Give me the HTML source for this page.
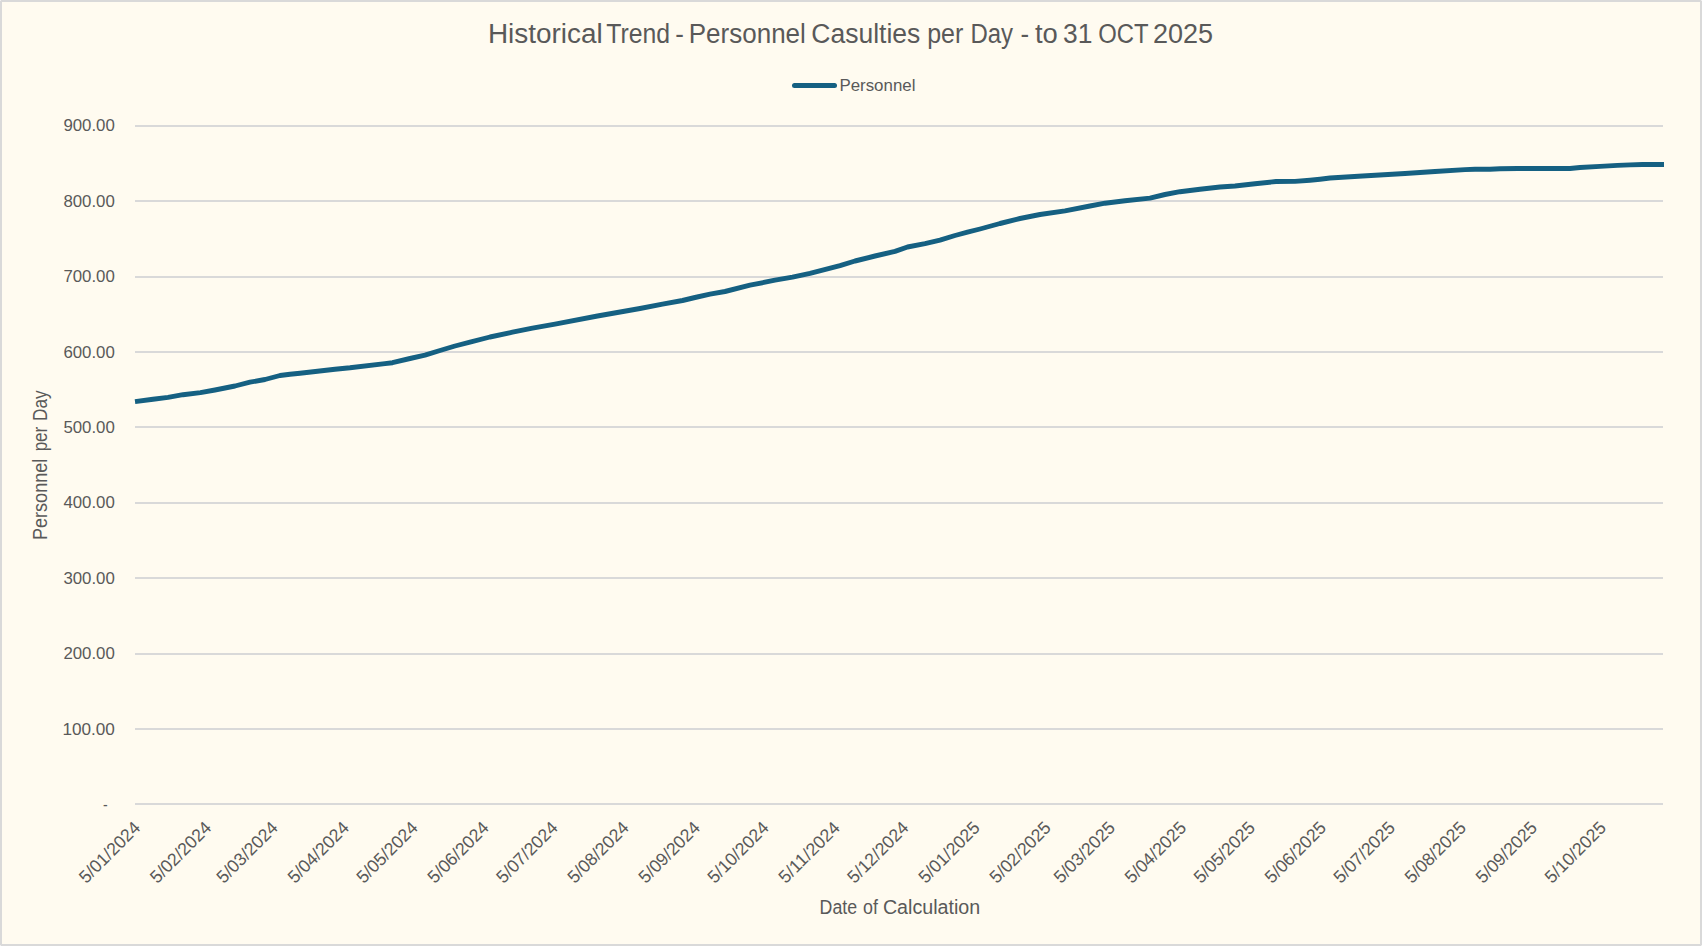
<!DOCTYPE html>
<html lang="en"><head><meta charset="utf-8"><title>Historical Trend - Personnel Casulties per Day</title>
<style>html,body{margin:0;padding:0;background:#FFFBF0;}body{width:1702px;height:946px;overflow:hidden;}svg{display:block;}text{font-family:"Liberation Sans", sans-serif;fill:#595959;}</style>
</head><body>
<svg width="1702" height="946" viewBox="0 0 1702 946">
<rect x="0" y="0" width="1702" height="946" fill="#D9D9D9"/>
<rect x="2" y="2" width="1698" height="942" fill="#FFFBF0"/>
<rect x="0" y="0" width="1" height="1" fill="#EFEFEF"/>
<rect x="1701" y="0" width="1" height="1" fill="#EFEFEF"/>
<rect x="0" y="945" width="1" height="1" fill="#EFEFEF"/>
<rect x="1701" y="945" width="1" height="1" fill="#EFEFEF"/>
<g id="title">
<text y="42.70" font-size="27.0"><tspan x="487.93" textLength="114.80" lengthAdjust="spacingAndGlyphs">Historical</tspan> <tspan x="606.30" textLength="63.83" lengthAdjust="spacingAndGlyphs">Trend</tspan> <tspan x="675.14" textLength="8.61" lengthAdjust="spacingAndGlyphs">-</tspan> <tspan x="688.77" textLength="117.09" lengthAdjust="spacingAndGlyphs">Personnel</tspan> <tspan x="811.32" textLength="108.97" lengthAdjust="spacingAndGlyphs">Casulties</tspan> <tspan x="927.17" textLength="36.12" lengthAdjust="spacingAndGlyphs">per</tspan> <tspan x="970.42" textLength="42.63" lengthAdjust="spacingAndGlyphs">Day</tspan> <tspan x="1020.44" textLength="8.61" lengthAdjust="spacingAndGlyphs">-</tspan> <tspan x="1035.00" textLength="22.83" lengthAdjust="spacingAndGlyphs">to</tspan> <tspan x="1063.02" textLength="29.37" lengthAdjust="spacingAndGlyphs">31</tspan> <tspan x="1098.32" textLength="49.91" lengthAdjust="spacingAndGlyphs">OCT</tspan> <tspan x="1152.90" textLength="60.12" lengthAdjust="spacingAndGlyphs">2025</tspan></text>
</g>
<g id="legend">
<line x1="794.5" y1="85.5" x2="834.5" y2="85.5" stroke="#156082" stroke-width="5" stroke-linecap="round"/>
<text y="91.00" font-size="17.3"><tspan x="839.42" textLength="76.00" lengthAdjust="spacingAndGlyphs">Personnel</tspan></text>
</g>
<g id="yaxis">
<rect x="135" y="125" width="1528" height="2" fill="#D9D9D9"/>
<text y="131.00" font-size="17.2"><tspan x="63.40" textLength="51.45" lengthAdjust="spacingAndGlyphs">900.00</tspan></text>
<rect x="135" y="200" width="1528" height="2" fill="#D9D9D9"/>
<text y="207.00" font-size="17.2"><tspan x="63.40" textLength="51.45" lengthAdjust="spacingAndGlyphs">800.00</tspan></text>
<rect x="135" y="276" width="1528" height="2" fill="#D9D9D9"/>
<text y="282.00" font-size="17.2"><tspan x="63.40" textLength="51.45" lengthAdjust="spacingAndGlyphs">700.00</tspan></text>
<rect x="135" y="351" width="1528" height="2" fill="#D9D9D9"/>
<text y="358.00" font-size="17.2"><tspan x="63.40" textLength="51.45" lengthAdjust="spacingAndGlyphs">600.00</tspan></text>
<rect x="135" y="426" width="1528" height="2" fill="#D9D9D9"/>
<text y="433.00" font-size="17.2"><tspan x="63.40" textLength="51.45" lengthAdjust="spacingAndGlyphs">500.00</tspan></text>
<rect x="135" y="502" width="1528" height="2" fill="#D9D9D9"/>
<text y="508.00" font-size="17.2"><tspan x="63.40" textLength="51.45" lengthAdjust="spacingAndGlyphs">400.00</tspan></text>
<rect x="135" y="577" width="1528" height="2" fill="#D9D9D9"/>
<text y="584.00" font-size="17.2"><tspan x="63.40" textLength="51.45" lengthAdjust="spacingAndGlyphs">300.00</tspan></text>
<rect x="135" y="653" width="1528" height="2" fill="#D9D9D9"/>
<text y="659.00" font-size="17.2"><tspan x="63.40" textLength="51.45" lengthAdjust="spacingAndGlyphs">200.00</tspan></text>
<rect x="135" y="728" width="1528" height="2" fill="#D9D9D9"/>
<text y="735.00" font-size="17.2"><tspan x="62.40" textLength="52.46" lengthAdjust="spacingAndGlyphs">100.00</tspan></text>
<rect x="135" y="803" width="1528" height="2" fill="#D9D9D9"/>
<text y="810.40" font-size="17.2"><tspan x="103.00" textLength="4.69" lengthAdjust="spacingAndGlyphs">-</tspan></text>
</g>
<path id="series" d="M135.0 401.6 L153.0 399.2 L168.0 397.4 L183.0 394.7 L200.4 392.6 L215.0 390.0 L235.0 386.0 L250.0 382.2 L265.0 379.5 L280.0 375.5 L290.0 374.2 L300.0 373.2 L335.0 369.2 L350.0 367.8 L385.0 363.6 L392.5 362.7 L410.0 358.5 L425.0 355.2 L440.0 350.5 L455.0 346.0 L470.0 342.2 L490.0 337.0 L512.5 332.2 L532.5 328.2 L555.0 324.2 L597.5 316.0 L640.0 308.5 L662.5 304.2 L682.5 300.5 L695.0 297.5 L710.0 294.2 L725.0 291.5 L750.0 285.2 L775.0 280.2 L792.5 277.2 L810.0 273.4 L840.0 265.7 L855.0 261.0 L875.0 256.0 L895.0 251.4 L907.5 247.0 L925.0 243.7 L940.0 240.2 L955.0 235.5 L967.5 232.2 L980.0 229.0 L1000.0 223.5 L1020.0 218.5 L1040.0 214.5 L1065.0 210.8 L1090.0 206.0 L1105.0 203.2 L1125.0 200.7 L1150.0 198.1 L1165.0 194.5 L1180.0 191.7 L1200.0 189.2 L1220.0 187.0 L1235.0 186.0 L1255.0 183.7 L1276.0 181.5 L1295.0 181.4 L1310.0 180.2 L1320.0 179.2 L1330.0 178.0 L1362.5 176.0 L1405.0 173.5 L1435.0 171.5 L1465.0 169.6 L1475.0 169.3 L1490.0 169.2 L1500.0 168.7 L1517.5 168.5 L1570.0 168.5 L1580.0 167.5 L1600.0 166.4 L1617.5 165.4 L1630.0 164.9 L1642.5 164.5 L1664.0 164.5" fill="none" stroke="#156082" stroke-width="4.9" stroke-linejoin="round" stroke-linecap="butt"/>
<g id="xaxis">
<text transform="translate(140.30 830) rotate(-45)" x="-76.60" y="0" font-size="17.8" textLength="78.09" lengthAdjust="spacingAndGlyphs">5/01/2024</text>
<text transform="translate(211.41 830) rotate(-45)" x="-76.60" y="0" font-size="17.8" textLength="78.09" lengthAdjust="spacingAndGlyphs">5/02/2024</text>
<text transform="translate(277.93 830) rotate(-45)" x="-76.60" y="0" font-size="17.8" textLength="78.09" lengthAdjust="spacingAndGlyphs">5/03/2024</text>
<text transform="translate(349.04 830) rotate(-45)" x="-76.60" y="0" font-size="17.8" textLength="78.09" lengthAdjust="spacingAndGlyphs">5/04/2024</text>
<text transform="translate(417.85 830) rotate(-45)" x="-76.60" y="0" font-size="17.8" textLength="78.09" lengthAdjust="spacingAndGlyphs">5/05/2024</text>
<text transform="translate(488.96 830) rotate(-45)" x="-76.60" y="0" font-size="17.8" textLength="78.09" lengthAdjust="spacingAndGlyphs">5/06/2024</text>
<text transform="translate(557.77 830) rotate(-45)" x="-76.60" y="0" font-size="17.8" textLength="78.09" lengthAdjust="spacingAndGlyphs">5/07/2024</text>
<text transform="translate(628.88 830) rotate(-45)" x="-76.60" y="0" font-size="17.8" textLength="78.09" lengthAdjust="spacingAndGlyphs">5/08/2024</text>
<text transform="translate(699.99 830) rotate(-45)" x="-76.60" y="0" font-size="17.8" textLength="78.09" lengthAdjust="spacingAndGlyphs">5/09/2024</text>
<text transform="translate(768.80 830) rotate(-45)" x="-76.60" y="0" font-size="17.8" textLength="78.09" lengthAdjust="spacingAndGlyphs">5/10/2024</text>
<text transform="translate(839.91 830) rotate(-45)" x="-76.60" y="0" font-size="17.8" textLength="78.09" lengthAdjust="spacingAndGlyphs">5/11/2024</text>
<text transform="translate(908.72 830) rotate(-45)" x="-76.60" y="0" font-size="17.8" textLength="78.09" lengthAdjust="spacingAndGlyphs">5/12/2024</text>
<text transform="translate(979.83 830) rotate(-45)" x="-76.60" y="0" font-size="17.8" textLength="78.09" lengthAdjust="spacingAndGlyphs">5/01/2025</text>
<text transform="translate(1050.94 830) rotate(-45)" x="-76.60" y="0" font-size="17.8" textLength="78.09" lengthAdjust="spacingAndGlyphs">5/02/2025</text>
<text transform="translate(1115.16 830) rotate(-45)" x="-76.60" y="0" font-size="17.8" textLength="78.09" lengthAdjust="spacingAndGlyphs">5/03/2025</text>
<text transform="translate(1186.27 830) rotate(-45)" x="-76.60" y="0" font-size="17.8" textLength="78.09" lengthAdjust="spacingAndGlyphs">5/04/2025</text>
<text transform="translate(1255.09 830) rotate(-45)" x="-76.60" y="0" font-size="17.8" textLength="78.09" lengthAdjust="spacingAndGlyphs">5/05/2025</text>
<text transform="translate(1326.19 830) rotate(-45)" x="-76.60" y="0" font-size="17.8" textLength="78.09" lengthAdjust="spacingAndGlyphs">5/06/2025</text>
<text transform="translate(1395.01 830) rotate(-45)" x="-76.60" y="0" font-size="17.8" textLength="78.09" lengthAdjust="spacingAndGlyphs">5/07/2025</text>
<text transform="translate(1466.12 830) rotate(-45)" x="-76.60" y="0" font-size="17.8" textLength="78.09" lengthAdjust="spacingAndGlyphs">5/08/2025</text>
<text transform="translate(1537.22 830) rotate(-45)" x="-76.60" y="0" font-size="17.8" textLength="78.09" lengthAdjust="spacingAndGlyphs">5/09/2025</text>
<text transform="translate(1606.04 830) rotate(-45)" x="-76.60" y="0" font-size="17.8" textLength="78.09" lengthAdjust="spacingAndGlyphs">5/10/2025</text>
</g>
<g id="xtitle">
<text y="914.00" font-size="19.6"><tspan x="819.59" textLength="37.51" lengthAdjust="spacingAndGlyphs">Date</tspan> <tspan x="863.00" textLength="14.89" lengthAdjust="spacingAndGlyphs">of</tspan> <tspan x="882.90" textLength="97.30" lengthAdjust="spacingAndGlyphs">Calculation</tspan></text>
</g>
<g id="ytitle" transform="translate(47.2 539.2) rotate(-90)">
<text y="0.00" font-size="19.6"><tspan x="-0.92" textLength="81.45" lengthAdjust="spacingAndGlyphs">Personnel</tspan> <tspan x="87.83" textLength="24.56" lengthAdjust="spacingAndGlyphs">per</tspan> <tspan x="118.22" textLength="30.60" lengthAdjust="spacingAndGlyphs">Day</tspan></text>
</g>
</svg></body></html>
